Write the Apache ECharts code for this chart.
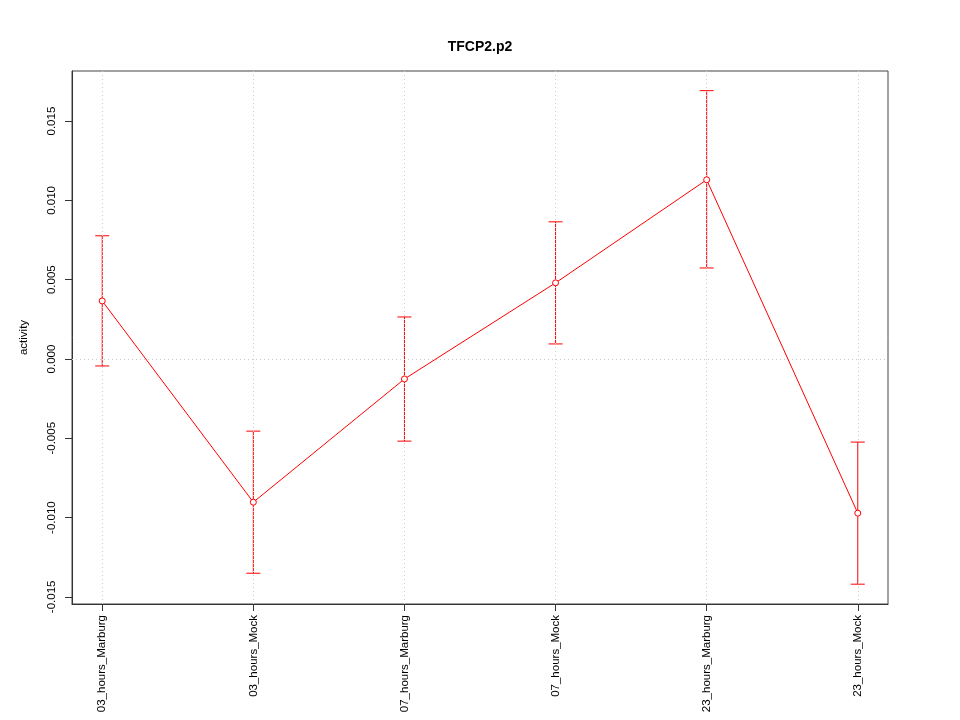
<!DOCTYPE html>
<html><head><meta charset="utf-8">
<script src="https://cdn.jsdelivr.net/npm/echarts@6/dist/echarts.min.js"></script>
<style>html,body{margin:0;padding:0;background:#fff}#c{width:960px;height:720px}</style>
</head><body><div id="c"></div>
<script>
const categories = ["03_hours_Marburg","03_hours_Mock","07_hours_Marburg","07_hours_Mock","23_hours_Marburg","23_hours_Mock"];
const activity = [0.00366, -0.00903, -0.00126, 0.00480, 0.01130, -0.00972];
const upper = [0.00777, -0.00455, 0.00265, 0.00865, 0.01692, -0.00524];
const lower = [-0.00044, -0.01351, -0.00518, 0.00095, 0.00574, -0.01420];
const yTicks = [-0.015, -0.010, -0.005, 0.000, 0.005, 0.010, 0.015];

const xs = categories.map((c, i) => i + 1);
const font = "Liberation Sans, Arial, sans-serif";
const chart = echarts.init(document.getElementById('c'), null, {renderer: 'canvas'});
chart.setOption({
  animation: false,
  backgroundColor: '#fff',
  title: {text: 'TFCP2.p2', left: 'center', top: 35, textStyle: {fontFamily: font, fontSize: 14, fontWeight: 'bold', color: '#000'}},
  grid: {left: 72, right: 72, top: 71, bottom: 116, show: true, borderColor: '#444', borderWidth: 1, backgroundColor: 'transparent'},
  xAxis: {
    type: 'value', min: 0.8, max: 6.2,
    axisLine: {show: true, onZero: false, lineStyle: {color: '#333'}},
    axisTick: {show: true, length: 7, customValues: xs, lineStyle: {color: '#333'}},
    axisLabel: {customValues: xs, rotate: 90, margin: 11, fontFamily: font, fontSize: 11.5, color: '#000',
      formatter: v => categories[Math.round(v) - 1] || ''},
    splitLine: {show: false}
  },
  yAxis: {
    type: 'value', min: -0.01545, max: 0.01816,
    name: 'activity', nameLocation: 'middle', nameGap: 42, nameRotate: 90,
    nameTextStyle: {fontFamily: font, fontSize: 11.5, color: '#000'},
    axisLine: {show: true, onZero: false, lineStyle: {color: '#333'}},
    axisTick: {show: true, length: 7, customValues: yTicks, lineStyle: {color: '#333'}},
    axisLabel: {customValues: yTicks, rotate: 90, margin: 14, fontFamily: font, fontSize: 11.5, color: '#000',
      formatter: v => v.toFixed(3)},
    splitLine: {show: false}
  },
  series: [
    {
      type: 'line',
      data: xs.map((x, i) => [x, activity[i]]),
      symbol: 'circle', symbolSize: 6,
      itemStyle: {color: '#fff', borderColor: '#ff0000', borderWidth: 1},
      lineStyle: {color: '#ff0000', width: 1},
      z: 5,
      markLine: {
        silent: true, symbol: 'none', label: {show: false},
        lineStyle: {color: '#cccccc', type: [1, 3], width: 1},
        data: xs.map(x => ({xAxis: x})).concat([{yAxis: 0}])
      }
    },
    {
      type: 'custom',
      data: xs.map((x, i) => [x, lower[i], upper[i]]),
      z: 4,
      renderItem: function (params, api) {
        const x = api.value(0);
        const lo = api.coord([x, api.value(1)]);
        const hi = api.coord([x, api.value(2)]);
        const w = 7;
        const st = {stroke: '#ff0000', lineWidth: 1};
        return {type: 'group', children: [
          {type: 'line', shape: {x1: lo[0], y1: lo[1], x2: hi[0], y2: hi[1]}, style: st},
          {type: 'line', shape: {x1: lo[0] - w, y1: lo[1], x2: lo[0] + w, y2: lo[1]}, style: st},
          {type: 'line', shape: {x1: hi[0] - w, y1: hi[1], x2: hi[0] + w, y2: hi[1]}, style: st}
        ]};
      }
    }
  ]
});
</script></body></html>
